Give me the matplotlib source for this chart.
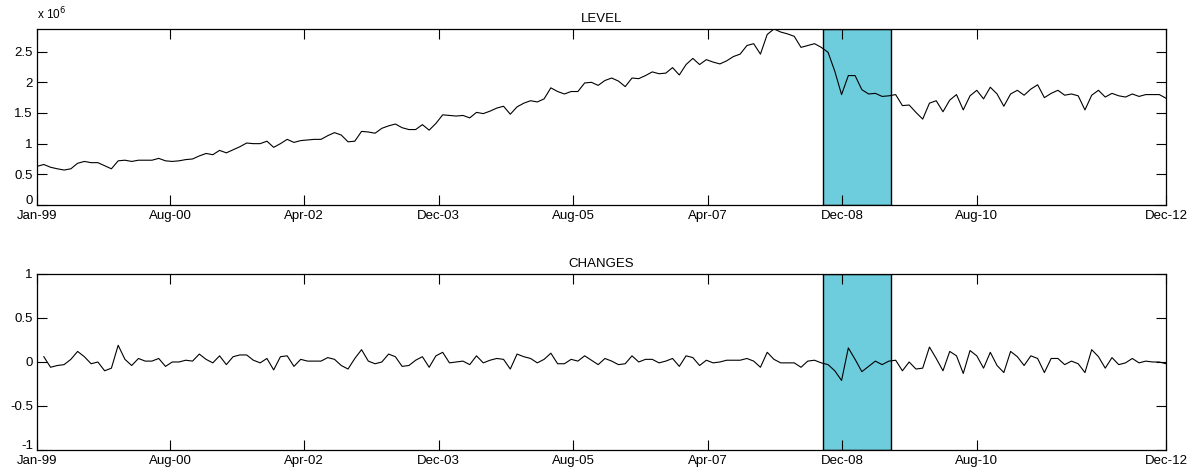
import matplotlib
matplotlib.use("Agg")
import matplotlib.pyplot as plt
from matplotlib.transforms import ScaledTranslation

plt.rcParams['font.family'] = ['Liberation Sans', 'DejaVu Sans']

# monthly level, Jan-1999 .. Dec-2012 (millions)
level = [
    0.63, 0.66, 0.615, 0.59, 0.57, 0.59, 0.68, 0.71, 0.69, 0.69,
    0.64, 0.59, 0.72, 0.73, 0.71, 0.73, 0.73, 0.73, 0.76, 0.72,
    0.71, 0.72, 0.74, 0.75, 0.80, 0.84, 0.82, 0.89, 0.85, 0.90,
    0.95, 1.01, 1.00, 1.00, 1.04, 0.94, 1.00, 1.07, 1.02, 1.05,
    1.06, 1.07, 1.07, 1.13, 1.18, 1.14, 1.03, 1.04, 1.20, 1.19,
    1.17, 1.25, 1.29, 1.32, 1.26, 1.23, 1.23, 1.31, 1.22, 1.33,
    1.47, 1.46, 1.45, 1.46, 1.42, 1.51, 1.49, 1.53, 1.58, 1.61,
    1.48, 1.60, 1.66, 1.70, 1.68, 1.73, 1.91, 1.85, 1.81, 1.85,
    1.85, 1.99, 2.00, 1.95, 2.03, 2.07, 2.02, 1.93, 2.07, 2.06,
    2.11, 2.17, 2.14, 2.15, 2.24, 2.12, 2.29, 2.39, 2.29, 2.37,
    2.33, 2.30, 2.35, 2.42, 2.46, 2.60, 2.63, 2.46, 2.78, 2.87,
    2.82, 2.79, 2.75, 2.57, 2.60, 2.63, 2.57, 2.49, 2.18, 1.80,
    2.11, 2.11, 1.88, 1.81, 1.82, 1.77, 1.78, 1.80, 1.62, 1.63,
    1.51, 1.40, 1.66, 1.70, 1.52, 1.71, 1.80, 1.55, 1.78, 1.87,
    1.73, 1.92, 1.81, 1.61, 1.81, 1.87, 1.79, 1.89, 1.96, 1.75,
    1.82, 1.87, 1.79, 1.81, 1.78, 1.55, 1.79, 1.87, 1.76, 1.82,
    1.78, 1.76, 1.81, 1.77, 1.80, 1.80, 1.80, 1.74,
]

# month-on-month changes, Feb-1999 .. Dec-2012
changes = [
    0.06, -0.06, -0.04, -0.03, 0.03, 0.12, 0.06, -0.02, 0.00, -0.10,
    -0.07, 0.19, 0.03, -0.04, 0.04, 0.01, 0.01, 0.04, -0.05, 0.00,
    0.00, 0.02, 0.01, 0.09, 0.03, -0.01, 0.07, -0.03, 0.06, 0.08,
    0.08, 0.02, -0.01, 0.04, -0.09, 0.06, 0.07, -0.05, 0.03, 0.01,
    0.01, 0.01, 0.05, 0.03, -0.04, -0.08, 0.04, 0.14, 0.01, -0.02,
    0.00, 0.09, 0.06, -0.05,
    -0.04, 0.02, 0.06, -0.06, 0.07, 0.11, -0.01, 0.00, 0.01, -0.03,
    0.07, -0.01, 0.02, 0.04, 0.03, -0.08, 0.09, 0.06, 0.04, -0.01,
    0.03, 0.10, -0.02, -0.02, 0.03, 0.01, 0.07, 0.02, -0.03, 0.04,
    0.01, -0.03, -0.02, 0.07, 0.00, 0.03, 0.03, -0.01, 0.01, 0.04,
    -0.05, 0.07, 0.05, -0.04, 0.02, -0.01, 0.00, 0.02, 0.02, 0.02,
    0.04, 0.01, -0.06, 0.11, 0.03, -0.01,
    -0.01, -0.01, -0.06, 0.01, 0.02, -0.01, -0.03, -0.10, -0.21, 0.16,
    0.03, -0.11, -0.05, 0.01, -0.03, 0.01, 0.02, -0.10, 0.00, -0.08,
    -0.07, 0.17, 0.04, -0.10, 0.12, 0.07, -0.13, 0.13, 0.07, -0.07,
    0.11, -0.04, -0.12, 0.12, 0.06, -0.04, 0.07, 0.04, -0.12, 0.04,
    0.04, -0.03, 0.01, -0.02, -0.12, 0.14, 0.06, -0.07, 0.05, -0.03,
    -0.01, 0.04, -0.01, 0.01, 0.00, 0.00, -0.02,
]

tick_labels = ['Jan-99', 'Aug-00', 'Apr-02', 'Dec-03', 'Aug-05',
               'Apr-07', 'Dec-08', 'Aug-10', 'Dec-12']
tick_pos = [0, 19.7, 39.5, 59.4, 79.3, 99.2, 119.1, 139.0, 167]

crisis = (116.3, 126.3)  # shaded period, in months since Jan-99

months = list(range(len(level)))
months_chg = months[1:]

fig = plt.figure(figsize=(11.95, 4.71), dpi=100)
ax1 = fig.add_axes([0.031, 0.5648, 0.9448, 0.3737])
ax2 = fig.add_axes([0.031, 0.0446, 0.9448, 0.3737])


def style(ax, title):
    ax.set_xlim(0, len(level) - 1)
    ax.set_xticks(tick_pos)
    ax.set_xticklabels(tick_labels)
    ax.tick_params(direction='in', length=7, width=0.8, top=True, right=True,
                   labelsize=9.5, colors='black')
    ax.tick_params(axis='x', pad=3.5)
    ax.tick_params(axis='y', pad=3)
    for s in ax.spines.values():
        s.set_linewidth(0.9)
    ax.set_title(title, fontsize=9.5, pad=5)
    # lift the lowest y label a little so it clears the first date label
    low = ax.get_yticklabels()[0]
    low.set_transform(low.get_transform() + ScaledTranslation(0, 4 / 72, fig.dpi_scale_trans))


ax1.axvspan(*crisis, facecolor='#6ecddd', edgecolor='black', linewidth=1, zorder=1)
ax1.plot(months, level, color='black', linewidth=0.8, zorder=2)
ax1.set_ylim(0, max(level))
ax1.set_yticks([0, 0.5, 1, 1.5, 2, 2.5])
ax1.set_yticklabels(['0', '0.5', '1', '1.5', '2', '2.5'])
style(ax1, 'LEVEL')
ax1.text(0, 1.04, r'x 10$^6$', transform=ax1.transAxes, fontsize=8.5,
         ha='left', va='bottom')

ax2.axvspan(*crisis, facecolor='#6ecddd', edgecolor='black', linewidth=1, zorder=1)
ax2.plot(months_chg, changes, color='black', linewidth=0.8, zorder=2)
ax2.set_ylim(-1, 1)
ax2.set_yticks([-1, -0.5, 0, 0.5, 1])
ax2.set_yticklabels(['-1', '-0.5', '0', '0.5', '1'])
style(ax2, 'CHANGES')

fig.savefig('out.png', dpi=100)
